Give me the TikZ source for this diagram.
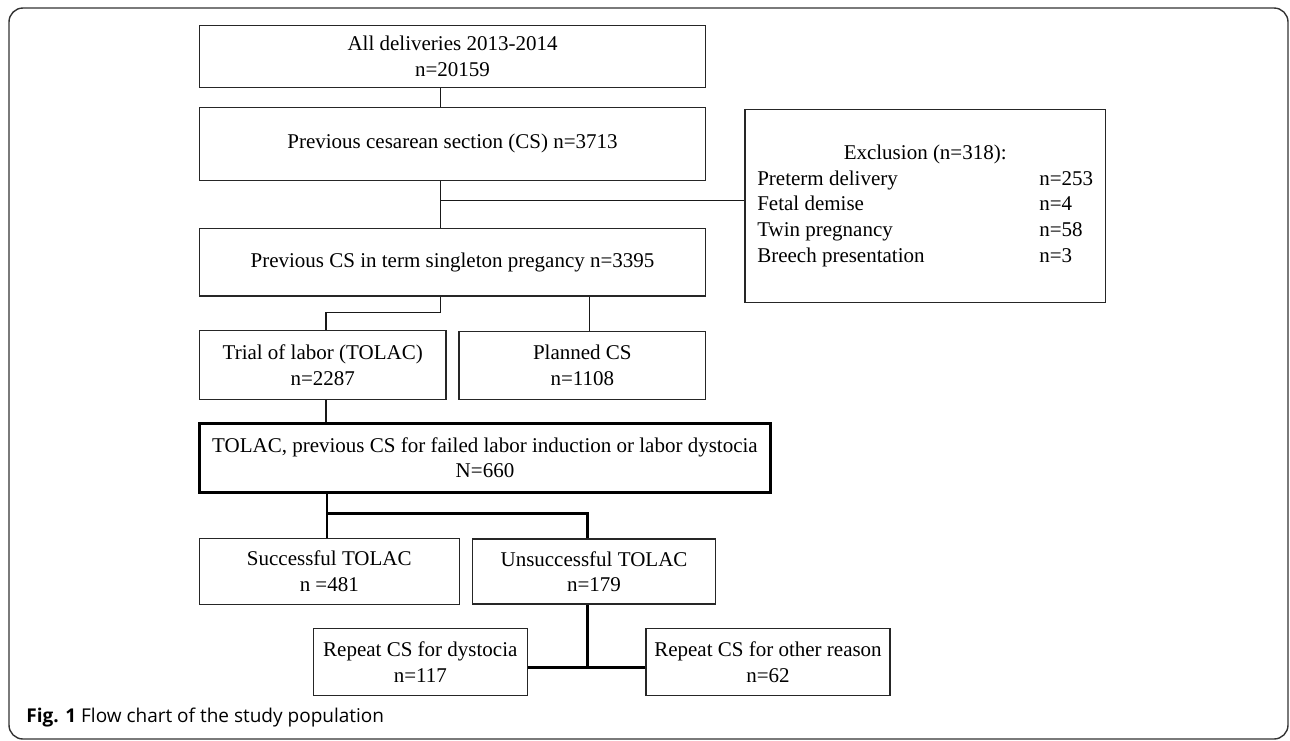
\documentclass[tikz,border=0pt]{standalone}
\usepackage{fontspec}
\setmainfont{Liberation Serif}
\newfontfamily\capfont{Open Sans}
\begin{document}
\begin{tikzpicture}[x=0.5pt,y=-0.5pt,
    box/.style={rectangle,draw=black!85,line width=0.6pt,inner sep=0pt,align=center,font=\fontsize{10.5}{12.8}\selectfont},
    link/.style={draw=black!90,line width=0.6pt},
    boldlink/.style={draw=black,line width=1.2pt}]
    \useasboundingbox (0,0) rectangle (1290,740);
    \draw[black!80,line width=0.7pt,rounded corners=7pt] (9,8) rectangle (1288,739);
    \coordinate (c1) at (440.7,200.3);\coordinate (c2) at (326,312.3);\coordinate (c3) at (589.3,312.3);
    \coordinate (c5) at (327,513.3);\coordinate (c4) at (587.3,513.3);\coordinate (c6) at (587.3,667.3);
    \node[box,minimum width=253.2pt,minimum height=31pt] (all) at (452.5,56.3) {All deliveries 2013-2014\\n=20159};
    \node[box,minimum width=253.2pt,minimum height=36.5pt] (prev) at (452.5,143.8) {Previous cesarean section (CS) n=3713};
    \node[box,minimum width=253.2pt,minimum height=33.65pt] (term) at (452.5,262.3) {Previous CS in term singleton pregancy n=3395};
    \node[box,minimum width=180.15pt,minimum height=96.5pt] (excl) at (925.2,205.8) {%
        \begin{tabular}{@{}p{141pt}@{}l@{}}
            \multicolumn{2}{c}{Exclusion (n=318):}\\
            Preterm delivery & n=253\\
            Fetal demise & n=4\\
            Twin pregnancy & n=58\\
            Breech presentation & n=3
        \end{tabular}};
    \node[box,minimum width=123.35pt,minimum height=34.3pt] (tolac) at (322.7,365) {Trial of labor (TOLAC)\\n=2287};
    \node[box,minimum width=123.35pt,minimum height=33.8pt] (planned) at (582.3,365.5) {Planned CS\\n=1108};
    \node[box,line width=1.35pt,draw=black,minimum width=285.7pt,minimum height=34.5pt] (failed) at (485,457.8) {TOLAC, previous CS for failed labor induction or labor dystocia\\N=660};
    \node[box,minimum width=130pt,minimum height=33pt] (succ) at (329.3,571.3) {Successful TOLAC\\n =481};
    \node[box,minimum width=121.7pt,minimum height=32.5pt] (unsucc) at (594,571.5) {Unsuccessful TOLAC\\n=179};
    \node[box,minimum width=107pt,minimum height=33.7pt] (dyst) at (420.3,662) {Repeat CS for dystocia\\n=117};
    \node[box,minimum width=122pt,minimum height=33.85pt] (other) at (768,662) {Repeat CS for other reason\\n=62};
    \node[anchor=base west,inner sep=0pt,font=\capfont\fontsize{9.5}{11}\selectfont] (caption) at (26,722) {\textbf{Fig. 1} Flow chart of the study population};
    % thin connectors
    \draw[link] (all.south -| c1) -- (prev.north -| c1);
    \draw[link] (prev.south -| c1) -- (term.north -| c1);
    \draw[link] (c1) -- (c1 -| excl.west);
    \draw[link] (term.south -| c1) |- (c2) -- (tolac.north -| c2);
    \draw[link] (term.south -| c3) -- (planned.north -| c3);
    \draw[link] (tolac.south -| c2) -- (failed.north -| c2);
    % thick connectors
    \draw[boldlink] (failed.south -| c5) -- (succ.north -| c5);
    \draw[boldlink] (c5) -- (c4) -- (unsucc.north -| c4);
    \draw[boldlink] (unsucc.south -| c4) -- (c6);
    \draw[boldlink] (dyst.east |- c6) -- (other.west |- c6);
\end{tikzpicture}
\end{document}
